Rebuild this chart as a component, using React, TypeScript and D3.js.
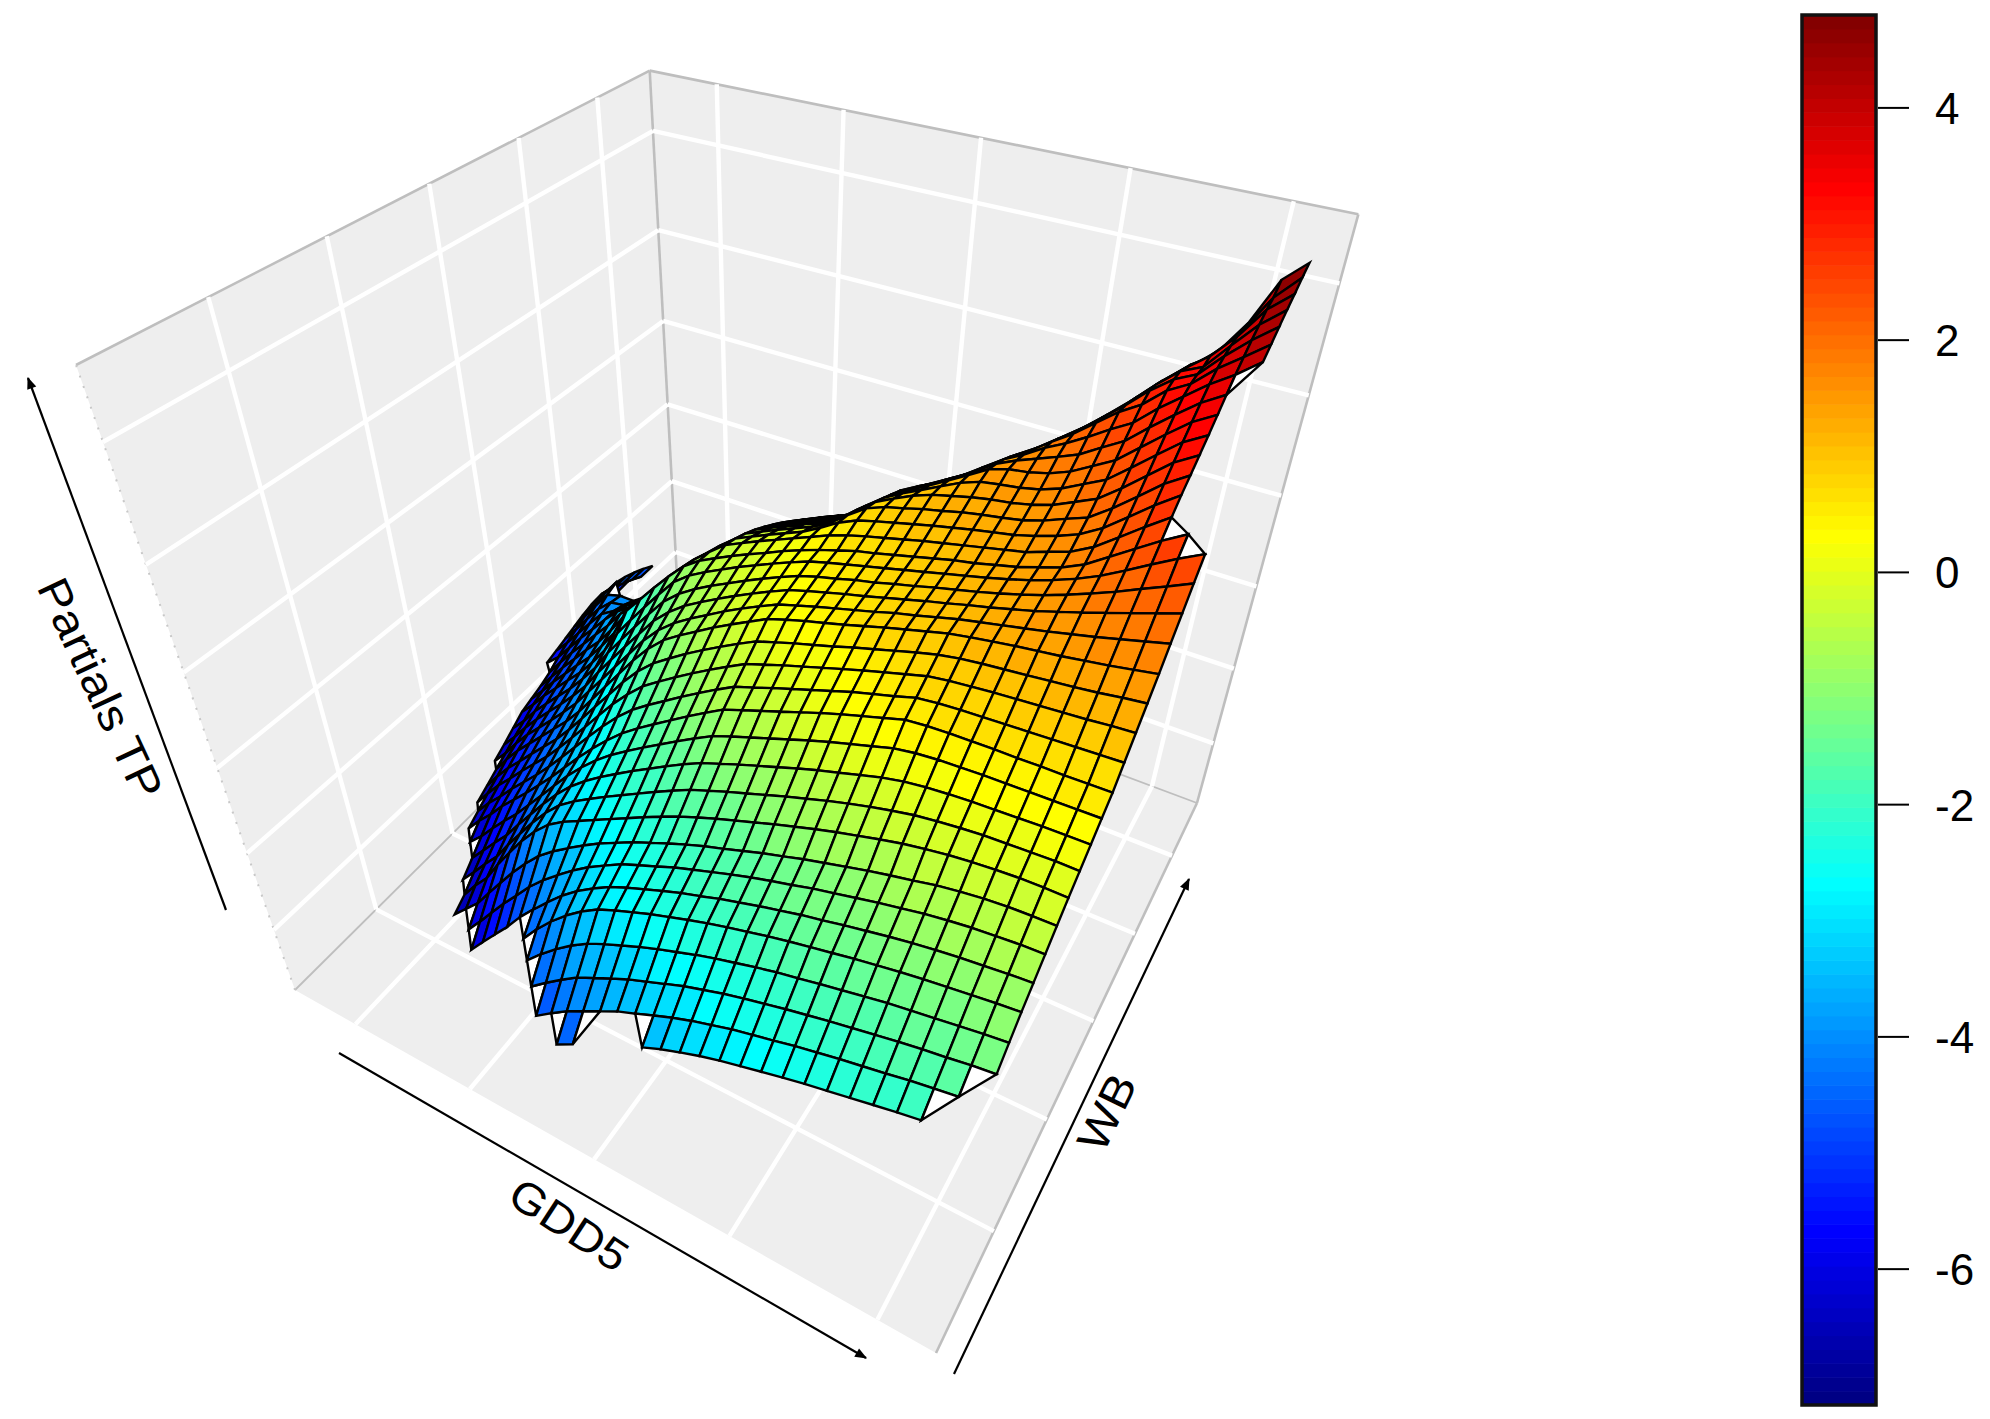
import * as d3 from "d3";

const W_PX = 1990;
const H_PX = 1419;

// axis ticks, in plot units
const gddTicks = [0, 1, 2, 3, 4];
const wbTicks = [0, 1, 2, 3, 4];
const partialTicks = [-6, -4, -2, 0, 2, 4];
const gddRange = [-0.562, 4.372];
const wbRange = [-0.956, 4.74];
const partialRange = [-7.73, 5.13];

// colour key
const keyRange = [-7.17, 4.8];
const keyTicks = [4, 2, 0, -2, -4, -6];
const jetStops = ["#00007F", "#0000FF", "#007FFF", "#00FFFF", "#7FFF7F", "#FFFF00", "#FF7F00", "#FF0000", "#7F0000"];

const gridSize = 40;
const _ = NaN;

// first column of each row of the surface
const rowStart = [19, 17, 16, 15, 14, 9, 8, 6, 6, 5, 5, 4, 3, 3, 2, 2, 2, 1, 1, 1, 1, 1, 1, 1, 0, 0, 0, 0, 0, 0, 0, 0, 0, 22, 24, 26];

// surface heights, row by row from the front (WB low) to the back
const zRows: number[][] = [
  [-4.8, -4.55, _, _, _, -3.65, -3.45, -3.28, -3.12, -2.98, -2.86, -2.74, -2.62, -2.51, -2.41, -2.31, -2.21, -2.11, -2.02],
  [-4.94, -4.64, -4.35, -4.12, -3.89, -3.66, -3.48, -3.29, -3.11, -2.95, -2.81, -2.67, -2.56, -2.45, -2.33, -2.23, -2.13, -2.04, -1.95, -1.85, -1.77, -1.69],
  [-4.8, -4.48, -4.18, -3.9, -3.69, -3.48, -3.28, -3.11, -2.94, -2.77, -2.63, -2.49, -2.37, -2.26, -2.15, -2.05, -1.95, -1.86, -1.77, -1.68, -1.6, -1.53, -1.45, -1.39],
  [-4.73, -4.35, -4.01, -3.71, -3.45, -3.25, -3.07, -2.89, -2.73, -2.58, -2.43, -2.3, -2.18, -2.06, -1.95, -1.86, -1.76, -1.67, -1.58, -1.49, -1.42, -1.35, -1.28, -1.21, -1.15],
  [-4.75, -4.3, -3.9, -3.55, -3.25, -3.0, -2.82, -2.66, -2.5, -2.36, -2.22, -2.09, -1.97, -1.86, -1.75, -1.65, -1.56, -1.47, -1.38, -1.3, -1.22, -1.15, -1.09, -1.03, -0.97, -0.92],
  [-6.48, -6.05, -5.63, -5.22, -4.76, -4.36, -3.98, -3.62, -3.31, -3.05, -2.82, -2.64, -2.48, -2.32, -2.17, -2.04, -1.9, -1.78, -1.66, -1.55, -1.44, -1.35, -1.25, -1.16, -1.07, -0.99, -0.92, -0.86, -0.81, -0.76, -0.72],
  [-6.48, -6.05, -5.6, -5.16, -4.75, -4.33, -3.97, -3.65, -3.35, -3.08, -2.85, -2.63, -2.46, -2.3, -2.13, -1.99, -1.85, -1.71, -1.58, -1.46, -1.35, -1.23, -1.13, -1.03, -0.93, -0.84, -0.75, -0.68, -0.62, -0.58, -0.54, -0.52],
  [-6.82, -6.46, -6.1, -5.62, -5.15, -4.69, -4.27, -3.89, -3.59, -3.33, -3.08, -2.85, -2.65, -2.45, -2.28, -2.11, -1.95, -1.8, -1.67, -1.53, -1.39, -1.27, -1.14, -1.03, -0.92, -0.81, -0.71, -0.62, -0.52, -0.45, -0.39, -0.35, -0.33, -0.32],
  [-6.6, -6.15, -5.75, -5.2, -4.7, -4.22, -3.8, -3.45, -3.2, -3.0, -2.8, -2.6, -2.4, -2.2, -2.01, -1.83, -1.67, -1.52, -1.38, -1.24, -1.1, -0.97, -0.84, -0.72, -0.61, -0.5, -0.4, -0.32, -0.25, -0.2, -0.16, -0.13, -0.12, -0.12],
  [-6.71, -6.31, -5.89, -5.5, -5.0, -4.53, -4.07, -3.65, -3.29, -3.02, -2.79, -2.57, -2.36, -2.15, -1.94, -1.74, -1.55, -1.4, -1.25, -1.11, -0.97, -0.83, -0.7, -0.57, -0.45, -0.34, -0.24, -0.15, -0.09, -0.04, 0, 0.02, 0.04, 0.06, 0.06],
  [-6.43, -6.03, -5.63, -5.25, -4.79, -4.35, -3.91, -3.5, -3.14, -2.84, -2.58, -2.34, -2.11, -1.89, -1.67, -1.46, -1.27, -1.12, -0.97, -0.83, -0.69, -0.55, -0.42, -0.3, -0.18, -0.06, 0.03, 0.09, 0.13, 0.16, 0.18, 0.2, 0.22, 0.23, 0.24],
  [-6.48, -6.14, -5.74, -5.36, -5.0, -4.59, -4.18, -3.76, -3.35, -2.98, -2.65, -2.36, -2.11, -1.87, -1.64, -1.41, -1.19, -0.98, -0.83, -0.69, -0.55, -0.41, -0.27, -0.14, -0.02, 0.1, 0.22, 0.29, 0.33, 0.35, 0.37, 0.38, 0.39, 0.4, 0.41, 0.42],
  [-6.6, -6.2, -5.85, -5.45, -5.1, -4.75, -4.38, -4.0, -3.6, -3.2, -2.82, -2.47, -2.15, -1.88, -1.63, -1.39, -1.15, -0.92, -0.7, -0.56, -0.42, -0.28, -0.14, 0, 0.13, 0.25, 0.37, 0.49, 0.53, 0.55, 0.56, 0.57, 0.57, 0.58, 0.58, 0.59, 0.6],
  [-6.41, -6.01, -5.66, -5.28, -4.93, -4.58, -4.2, -3.8, -3.39, -2.98, -2.58, -2.21, -1.89, -1.63, -1.39, -1.15, -0.92, -0.7, -0.49, -0.36, -0.22, -0.09, 0.04, 0.17, 0.3, 0.41, 0.52, 0.64, 0.69, 0.72, 0.74, 0.76, 0.78, 0.8, 0.82, 0.84, 0.86],
  [-6.65, -6.22, -5.82, -5.47, -5.1, -4.75, -4.4, -4.01, -3.6, -3.18, -2.75, -2.33, -1.96, -1.63, -1.38, -1.14, -0.91, -0.69, -0.48, -0.28, -0.15, -0.02, 0.1, 0.22, 0.34, 0.46, 0.57, 0.68, 0.79, 0.85, 0.89, 0.93, 0.96, 0.99, 1.02, 1.05, 1.09, 1.12],
  [-6.48, -6.04, -5.64, -5.29, -4.93, -4.58, -4.23, -3.83, -3.4, -2.96, -2.53, -2.09, -1.7, -1.38, -1.13, -0.89, -0.67, -0.46, -0.26, -0.07, 0.05, 0.17, 0.28, 0.39, 0.51, 0.62, 0.73, 0.84, 0.94, 1.01, 1.06, 1.1, 1.14, 1.18, 1.22, 1.27, 1.33, 1.38],
  [-6.3, -5.85, -5.45, -5.1, -4.75, -4.4, -4.05, -3.65, -3.2, -2.75, -2.3, -1.85, -1.45, -1.12, -0.88, -0.66, -0.44, -0.24, -0.05, 0.14, 0.26, 0.37, 0.47, 0.57, 0.68, 0.79, 0.89, 0.99, 1.09, 1.16, 1.22, 1.28, 1.33, 1.38, 1.44, 1.5, 1.57, 1.64],
  [-6.51, -6.13, -5.69, -5.3, -4.95, -4.6, -4.24, -3.86, -3.42, -2.98, -2.53, -2.09, -1.65, -1.28, -0.99, -0.76, -0.55, -0.34, -0.15, 0.03, 0.2, 0.31, 0.42, 0.52, 0.62, 0.72, 0.83, 0.92, 1.02, 1.12, 1.2, 1.28, 1.36, 1.44, 1.53, 1.62, 1.72, 1.82, 1.92],
  [-6.33, -5.95, -5.53, -5.15, -4.8, -4.45, -4.08, -3.68, -3.2, -2.75, -2.31, -1.88, -1.45, -1.12, -0.85, -0.64, -0.44, -0.25, -0.07, 0.1, 0.26, 0.37, 0.47, 0.57, 0.66, 0.76, 0.86, 0.96, 1.05, 1.15, 1.24, 1.34, 1.44, 1.56, 1.68, 1.81, 1.94, 2.07, 2.2],
  [-6.14, -5.78, -5.36, -5.0, -4.65, -4.3, -3.91, -3.49, -2.98, -2.53, -2.09, -1.66, -1.25, -0.95, -0.72, -0.52, -0.34, -0.16, 0.01, 0.17, 0.32, 0.43, 0.52, 0.62, 0.7, 0.8, 0.89, 0.99, 1.08, 1.17, 1.27, 1.38, 1.5, 1.64, 1.79, 1.95, 2.13, 2.3, 2.48],
  [-5.95, -5.6, -5.2, -4.85, -4.5, -4.15, -3.75, -3.3, -2.75, -2.3, -1.87, -1.45, -1.05, -0.78, -0.58, -0.4, -0.22, -0.06, 0.1, 0.25, 0.39, 0.49, 0.58, 0.67, 0.76, 0.85, 0.94, 1.03, 1.12, 1.21, 1.31, 1.42, 1.55, 1.7, 1.88, 2.1, 2.33, 2.55, 2.75],
  [-5.85, -5.48, -5.08, -4.72, -4.35, -4.0, -3.58, -3.12, -2.45, -2.05, -1.65, -1.27, -0.92, -0.68, -0.5, -0.33, -0.17, -0.02, 0.14, 0.28, 0.41, 0.52, 0.63, 0.71, 0.8, 0.89, 0.98, 1.07, 1.14, 1.23, 1.32, 1.44, 1.56, 1.74, 2.0, 2.26, 2.52, 2.75],
  [-5.75, -5.35, -4.95, -4.58, -4.2, -3.85, -3.42, -2.96, -2.53, -2.12, -1.72, -1.34, -0.99, -0.7, -0.43, -0.27, -0.11, 0.04, 0.19, 0.34, 0.49, 0.61, 0.71, 0.8, 0.89, 0.98, 1.06, 1.14, 1.22, 1.3, 1.38, 1.51, 1.63, 1.84, 2.13, 2.43, 2.71],
  [-5.62, -5.2, -4.8, -4.43, -4.05, -3.68, -3.25, -2.98, -2.62, -2.22, -1.82, -1.44, -1.09, -0.78, -0.5, -0.34, -0.18, -0.03, 0.12, 0.32, 0.54, 0.7, 0.8, 0.89, 0.98, 1.07, 1.15, 1.23, 1.3, 1.37, 1.47, 1.59, 1.74, 1.97, 2.28, 2.6, 2.88],
  [-5.75, -5.45, -5.05, -4.65, -4.28, -3.9, -3.56, -3.31, -3.08, -2.74, -2.34, -1.94, -1.56, -1.21, -0.9, -0.6, -0.44, -0.28, -0.13, 0.02, 0.21, 0.49, 0.74, 0.88, 0.97, 1.07, 1.15, 1.24, 1.31, 1.37, 1.44, 1.55, 1.7, 1.84, 2.12, 2.44, 2.77, 3.02],
  [-5.66, -5.3, -4.9, -4.5, -4.12, -3.9, -3.63, -3.41, -3.2, -2.88, -2.48, -2.08, -1.7, -1.35, -1.03, -0.72, -0.56, -0.4, -0.25, -0.1, 0.1, 0.4, 0.67, 0.85, 1.02, 1.15, 1.24, 1.33, 1.4, 1.45, 1.53, 1.64, 1.81, 1.98, 2.28, 2.61, 2.94, 3.17],
  [-5.57, -5.17, -4.75, -4.35, -4.05, -3.98, -3.74, -3.54, -3.35, -3.02, -2.62, -2.23, -1.85, -1.5, -1.18, -0.86, -0.7, -0.54, -0.39, -0.24, -0.04, 0.28, 0.56, 0.76, 0.94, 1.12, 1.3, 1.43, 1.49, 1.54, 1.62, 1.75, 1.94, 2.13, 2.45, 2.78, 3.1, 3.32],
  [-5.48, -5.05, -4.62, -4.2, -4.1, -4.1, -3.86, -3.67, -3.5, -3.18, -2.78, -2.39, -2.01, -1.66, -1.34, -1.01, -0.85, -0.69, -0.54, -0.39, -0.19, 0.14, 0.44, 0.64, 0.84, 1.05, 1.26, 1.48, 1.59, 1.64, 1.73, 1.87, 2.08, 2.29, 2.62, 2.95, 3.26, 3.48],
  [-5.39, -4.95, -4.52, -4.1, _, _, _, _, _, -3.36, -2.96, -2.56, -2.18, -1.83, -1.51, -1.17, -1.01, -0.85, -0.7, -0.55, -0.41, -0.01, 0.32, 0.52, 0.7, 0.92, 1.16, 1.4, 1.57, 1.71, 1.85, 2.0, 2.23, 2.45, 2.79, 3.11, 3.41, 3.64],
  [-5.32, -4.88, -4.59, -4.17, _, _, _, _, _, -3.54, -3.14, -2.74, -2.36, -2.01, -1.69, -1.34, -1.18, -1.02, -0.87, -0.72, -0.58, -0.17, 0.14, 0.36, 0.57, 0.78, 1.04, 1.3, 1.5, 1.73, 1.92, 2.14, 2.38, 2.6, 2.95, 3.25, 3.55, 3.8, 4.1],
  [-5.39, -4.95, -4.69, -4.27, _, _, _, _, _, -3.73, -3.33, -2.93, -2.55, -2.2, -1.88, -1.52, -1.36, -1.2, -1.05, -0.9, -0.76, -0.34, -0.02, 0.2, 0.42, 0.63, 0.9, 1.17, 1.4, 1.67, 1.92, 2.22, 2.52, 2.75, 3.09, 3.3, 3.65, 3.93, 4.22],
  [-5.49, -5.05, -4.81, -4.39, _, _, _, _, _, -3.92, -3.52, -3.12, -2.74, -2.39, -2.07, -1.71, -1.55, -1.39, -1.24, -1.09, -0.95, -0.52, -0.19, 0.03, 0.26, 0.47, 0.75, 1.03, 1.27, 1.55, 1.83, 2.15, 2.47, 2.83, 3.12, 3.3, 3.7, 4.05, 4.35],
  [-5.61, -5.17, -4.95, -4.53, _, _, _, _, _, _, _, _, _, _, _, _, _, _, _, _, _, -0.7, -0.36, -0.14, 0.09, 0.31, 0.59, 0.88, 1.11, 1.42, 1.71, 2.04, 2.39, 2.77, 3.1, 3.27, 3.72, 4.15, 4.47],
  [-0.49, -0.33, -0.1, 0.13, 0.42, 0.71, 0.97, 1.26, 1.58, 1.91, 2.29, 2.67, 3.0, 3.3, 3.72, 4.25, 4.58],
  [-0.22, -0.05, 0.25, 0.55, 0.8, 1.12, 1.42, 1.78, 2.13, 2.55, 2.9, 3.15, 3.68, 4.3, 4.7],
  [0.06, 0.36, 0.62, 0.95, 1.27, 1.62, 2.0, 2.4, 2.75, 3.1, 3.65, 4.45, 4.8],
];

// perspective matrix fitted to the corners of the box, (u, v, w) in 0..1
const projX = [295, 462.9, 609.3, -242.9];
const projY = [990, 105.5, -178.3, -739.8];
const projD = [1, -0.1903, 0.3325, -0.3145];

const project = (u: number, v: number, w: number) => {
  const d = projD[0] + projD[1] * u + projD[2] * v + projD[3] * w;
  return {
    x: (projX[0] + projX[1] * u + projX[2] * v + projX[3] * w) / d,
    y: (projY[0] + projY[1] * u + projY[2] * v + projY[3] * w) / d,
    d,
  };
};

const uScale = d3.scaleLinear().domain(gddRange).range([0, 1]);
const vScale = d3.scaleLinear().domain(wbRange).range([0, 1]);
const wScale = d3.scaleLinear().domain(partialRange).range([0, 1]);
const gridPos = d3.scaleLinear().domain([0, gridSize - 1]).range([0, 1]);

const jet = d3
  .scaleLinear<string>()
  .domain(d3.range(jetStops.length).map((i) => keyRange[0] + (i * (keyRange[1] - keyRange[0])) / (jetStops.length - 1)))
  .range(jetStops);
const nLevels = 100;
const levels = d3.range(nLevels).map((i) => jet(keyRange[0] + ((i + 0.5) * (keyRange[1] - keyRange[0])) / nLevels));
const levelColor = d3.scaleQuantize<string>().domain(keyRange).range(levels);

const keyY = d3.scaleLinear().domain(keyRange).range([1405, 15]);

const pathOf = d3
  .line<{ x: number; y: number }>()
  .x((d) => d.x)
  .y((d) => d.y);

const zAt = (i: number, j: number) => {
  const row = zRows[j];
  if (!row) return NaN;
  const z = row[i - rowStart[j]];
  return z === undefined ? NaN : z;
};

type Cell = { path: string; fill: string; depth: number; key: string };

const buildCells = () => {
  const cells: Cell[] = [];
  for (let j = 0; j < zRows.length; j++) {
    for (let i = 0; i < gridSize - 1; i++) {
      const corners = [
        [i, j],
        [i + 1, j],
        [i + 1, j + 1],
        [i, j + 1],
      ]
        .map(([a, b]) => ({ a, b, z: zAt(a, b) }))
        .filter((c) => !Number.isNaN(c.z));
      if (corners.length < 3) continue;
      const pts = corners.map((c) => project(gridPos(c.a), gridPos(c.b), wScale(c.z)));
      cells.push({
        key: `${i}-${j}`,
        path: pathOf(pts) + "Z",
        fill: corners.length === 4 ? levelColor(d3.mean(corners, (c) => c.z) as number) : "#FFFFFF",
        depth: d3.mean(pts, (p) => p.d) as number,
      });
    }
  }
  return cells.sort((a, b) => b.depth - a.depth);
};

const wallFill = "#EEEEEE";
const edgeGrey = "#BEBEBE";

const seg = (a: number[], b: number[]) => pathOf([project(a[0], a[1], a[2]), project(b[0], b[1], b[2])]) as string;
const wall = (pts: number[][]) => pathOf(pts.map((p) => project(p[0], p[1], p[2]))) + "Z";

export default function App() {
  const cells = buildCells();
  const gridLines: string[] = [];
  gddTicks.forEach((t) => {
    const u = uScale(t);
    gridLines.push(seg([u, 0, 0], [u, 1, 0]), seg([u, 1, 0], [u, 1, 1]));
  });
  wbTicks.forEach((t) => {
    const v = vScale(t);
    gridLines.push(seg([0, v, 0], [1, v, 0]), seg([0, v, 0], [0, v, 1]));
  });
  partialTicks.forEach((t) => {
    const w = wScale(t);
    gridLines.push(seg([0, 0, w], [0, 1, w]), seg([0, 1, w], [1, 1, w]));
  });
  const labelFont = "'Liberation Sans', Arial, sans-serif";
  return (
    <svg
      width={W_PX}
      height={H_PX}
      viewBox={`0 0 ${W_PX} ${H_PX}`}
      style={{ position: "absolute", left: 0, top: 0, background: "#fff" }}
    >
      <defs>
        <marker id="head" viewBox="0 0 10 10" refX="9" refY="5" markerWidth="16" markerHeight="12" orient="auto" markerUnits="userSpaceOnUse">
          <path d="M0,1 L10,5 L0,9 Z" fill="#000" />
        </marker>
      </defs>
      <g>
        <path d={wall([[0, 0, 0], [1, 0, 0], [1, 1, 0], [0, 1, 0]])} fill={wallFill} />
        <path d={wall([[0, 0, 0], [0, 1, 0], [0, 1, 1], [0, 0, 1]])} fill={wallFill} />
        <path d={wall([[0, 1, 0], [1, 1, 0], [1, 1, 1], [0, 1, 1]])} fill={wallFill} />
        {[
          seg([0, 0, 1], [0, 1, 1]),
          seg([0, 1, 1], [1, 1, 1]),
          seg([0, 1, 0], [0, 1, 1]),
          seg([1, 1, 0], [1, 1, 1]),
          seg([1, 0, 0], [1, 1, 0]),
          seg([0, 1, 0], [1, 1, 0]),
          seg([0, 0, 0], [0, 1, 0]),
        ].map((d, i) => (
          <path key={i} d={d} fill="none" stroke={edgeGrey} strokeWidth={i > 4 ? 1.8 : 2.6} />
        ))}
        <path d={seg([0, 0, 0], [0, 0, 1])} fill="none" stroke="#C8C8C8" strokeWidth={2} strokeDasharray="2 9" />
        {gridLines.map((d, i) => (
          <path key={i} d={d} fill="none" stroke="#FFFFFF" strokeWidth={4.4} />
        ))}
      </g>
      <g stroke="#000" strokeWidth={2.4} strokeLinejoin="miter">
        {cells.map((c) => (
          <path key={c.key} d={c.path} fill={c.fill} />
        ))}
      </g>
      <g stroke="#000" strokeWidth={2.2} fill="none">
        <path d="M226,910 L28,378" markerEnd="url(#head)" />
        <path d="M339,1053 L866,1358" markerEnd="url(#head)" />
        <path d="M954,1374 L1189,879" markerEnd="url(#head)" />
      </g>
      <g fontFamily={labelFont} fontSize={44} fill="#000" textAnchor="middle" dominantBaseline="middle">
        <text transform="translate(97,690) rotate(65)" textLength={238} lengthAdjust="spacingAndGlyphs">Partials TP</text>
        <text transform="translate(567,1228) rotate(33)" textLength={132} lengthAdjust="spacingAndGlyphs">GDD5</text>
        <text transform="translate(1110,1114) rotate(-64)" textLength={80} lengthAdjust="spacingAndGlyphs">WB</text>
      </g>
      <g>
        {levels.map((c, i) => {
          const step = (keyRange[1] - keyRange[0]) / nLevels;
          const lo = keyRange[0] + i * step;
          return <rect key={i} x={1802} width={74} y={keyY(lo + step)} height={keyY(lo) - keyY(lo + step) + 0.6} fill={c} />;
        })}
        <rect x={1802} y={15} width={74} height={1390} fill="none" stroke="#111" strokeWidth={3.5} />
        {keyTicks.map((t) => (
          <g key={t}>
            <line x1={1878} x2={1909} y1={keyY(t)} y2={keyY(t)} stroke="#000" strokeWidth={2} />
            <text x={1935} y={keyY(t) + 16} fontFamily={labelFont} fontSize={44} fill="#000">
              {String(t)}
            </text>
          </g>
        ))}
      </g>
    </svg>
  );
}
